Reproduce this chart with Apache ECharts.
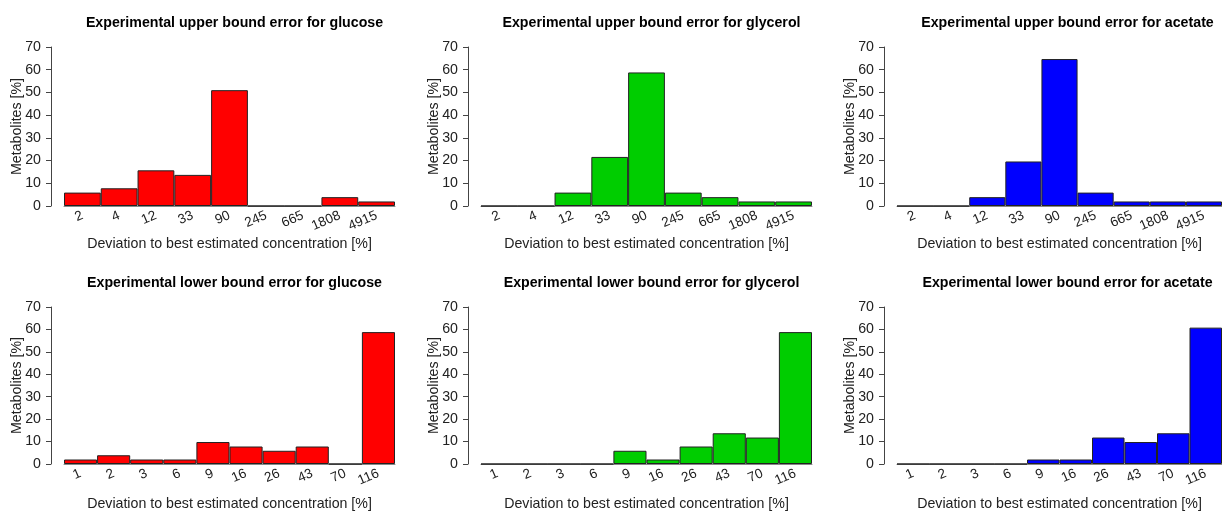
<!DOCTYPE html>
<html>
<head>
<meta charset="utf-8">
<script src="https://cdn.jsdelivr.net/npm/echarts@6/dist/echarts.min.js"></script>
<style>
  html, body { margin: 0; padding: 0; background: #fff; }
  #chart { width: 1222px; height: 512px; }
</style>
</head>
<body>
<div id="chart"></div>
<script>
// tick labels (deviation bins)
var upperLabels = ['2', '4', '12', '33', '90', '245', '665', '1808', '4915'];
var lowerLabels = ['1', '2', '3', '6', '9', '16', '26', '43', '70', '116'];

// percentages of metabolites per bin
var upperGlucose  = [5.9, 7.8, 15.7, 13.7, 51.0, 0, 0, 3.9, 2.0];
var upperGlycerol = [0, 0, 5.9, 21.6, 58.8, 5.9, 3.9, 2.0, 2.0];
var upperAcetate  = [0, 0, 3.9, 19.6, 64.7, 5.9, 2.0, 2.0, 2.0];
var lowerGlucose  = [2.0, 3.9, 2.0, 2.0, 9.8, 7.8, 5.9, 7.8, 0, 58.8];
var lowerGlycerol = [0, 0, 0, 0, 5.9, 2.0, 7.8, 13.7, 11.8, 58.8];
var lowerAcetate  = [0, 0, 0, 0, 2.0, 2.0, 11.8, 9.8, 13.7, 60.8];

var titles = [
  'Experimental upper bound error for glucose',
  'Experimental upper bound error for glycerol',
  'Experimental upper bound error for acetate',
  'Experimental lower bound error for glucose',
  'Experimental lower bound error for glycerol',
  'Experimental lower bound error for acetate'
];

var font = "'Liberation Sans', Arial, sans-serif";
var fs = 14.2;
var panels = [
  {left: 64,  top: 47,  labels: upperLabels, data: upperGlucose,  color: '#ff0000', nameGap: 31},
  {left: 481, top: 47,  labels: upperLabels, data: upperGlycerol, color: '#00cd00', nameGap: 31},
  {left: 897, top: 47,  labels: upperLabels, data: upperAcetate,  color: '#0000ff', nameGap: 31},
  {left: 64,  top: 307, labels: lowerLabels, data: lowerGlucose,  color: '#ff0000', nameGap: 33},
  {left: 481, top: 307, labels: lowerLabels, data: lowerGlycerol, color: '#00cd00', nameGap: 33},
  {left: 897, top: 307, labels: lowerLabels, data: lowerAcetate,  color: '#0000ff', nameGap: 33}
];
var plotW = 331, plotH = 159;

var grid = [], xAxis = [], yAxis = [], series = [], title = [];
panels.forEach(function (p, i) {
  grid.push({left: p.left, top: p.top, width: plotW, height: plotH});
  title.push({
    text: titles[i],
    left: p.left + plotW / 2,
    top: p.top - 36,
    textAlign: 'center',
    textStyle: {fontFamily: font, fontSize: fs, fontWeight: 'bold', color: '#000'}
  });
  xAxis.push({
    type: 'category',
    gridIndex: i,
    data: p.labels,
    boundaryGap: true,
    name: 'Deviation to best estimated concentration [%]',
    nameLocation: 'middle',
    nameGap: p.nameGap,
    nameTextStyle: {fontFamily: font, fontSize: fs, color: '#222'},
    axisLine: {show: true, lineStyle: {color: '#888', width: 1}},
    axisTick: {show: false},
    axisLabel: {rotate: 23, margin: 9, fontFamily: font, fontSize: 13.5, color: '#222', interval: 0},
    splitLine: {show: false}
  });
  yAxis.push({
    type: 'value',
    gridIndex: i,
    min: 0, max: 70, interval: 10,
    offset: 13,
    name: 'Metabolites [%]',
    nameLocation: 'middle',
    nameGap: 27,
    nameMoveOverlap: false,
    nameTextStyle: {fontFamily: font, fontSize: fs, color: '#222'},
    axisLine: {show: true, lineStyle: {color: '#444', width: 1}},
    axisTick: {show: true, length: 5, lineStyle: {color: '#444'}},
    axisLabel: {margin: 10, fontFamily: font, fontSize: fs, color: '#222'},
    splitLine: {show: false}
  });
  series.push({
    type: 'bar',
    xAxisIndex: i,
    yAxisIndex: i,
    data: p.data,
    barCategoryGap: '0%',
    itemStyle: {color: p.color, borderColor: '#222', borderWidth: 1},
    silent: true
  });
});

var myChart = echarts.init(document.getElementById('chart'));
myChart.setOption({
  animation: false,
  title: title,
  grid: grid,
  xAxis: xAxis,
  yAxis: yAxis,
  series: series
});
</script>
</body>
</html>
